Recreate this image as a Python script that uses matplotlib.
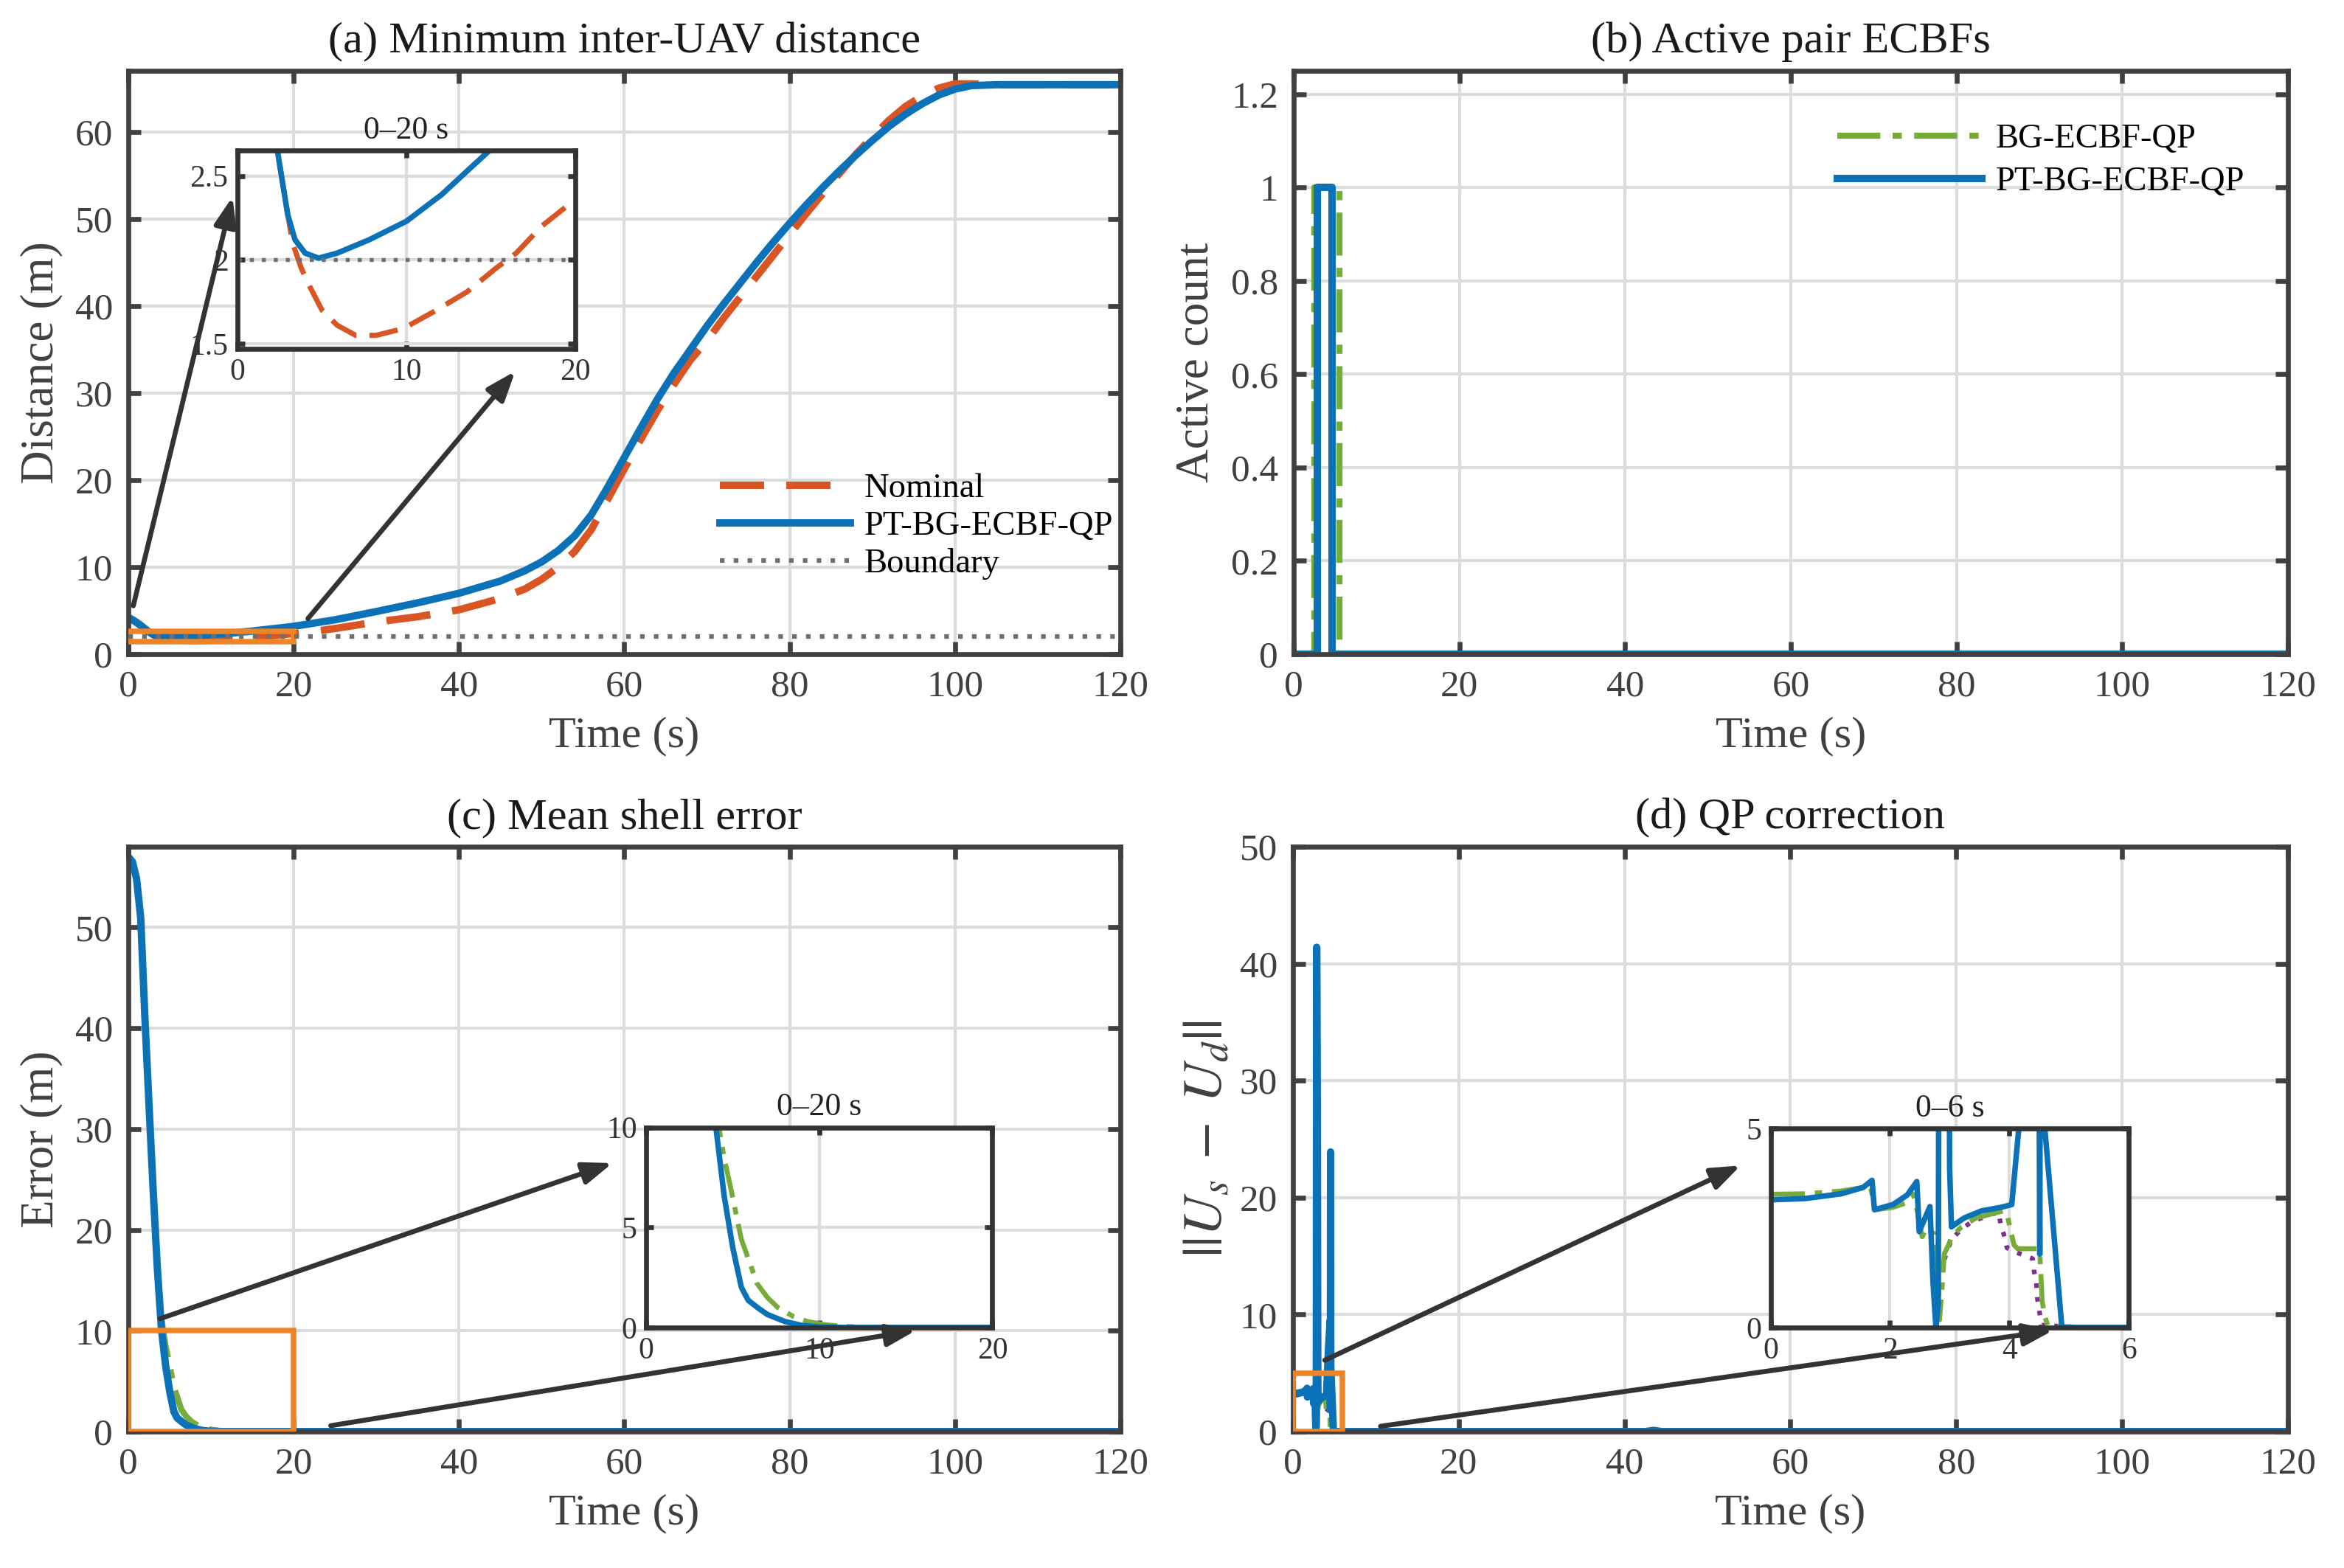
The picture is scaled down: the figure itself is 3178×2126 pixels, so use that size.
import numpy as np
import matplotlib
matplotlib.use("Agg")
import matplotlib.pyplot as plt
from matplotlib.patches import Rectangle

plt.rcParams['font.family'] = ['Liberation Serif', 'DejaVu Serif']
plt.rcParams['mathtext.fontset'] = 'stix'

# colours (MATLAB-like)
C_BLUE = '#0b72b8'
C_RED = '#d95524'
C_GREEN = '#77ac3a'
C_PURP = '#7e2f8e'
C_GRAY = '#707070'
C_ORANGE = '#ee8428'
C_AX = '#404040'
C_ARROW = '#333333'

# ---- (a) minimum inter-UAV distance ----
t_a_pt = [0, 0.5, 1, 1.5, 2, 2.36, 2.68, 2.97, 3.4, 4.0, 4.8, 5.9, 7.8, 10, 12.1, 13.6, 14.9,
          16.5, 18, 20, 25, 30, 35, 40, 45, 48, 50, 52, 54, 56, 58, 60, 62, 64, 66, 68, 70,
          72, 74, 76, 78, 80, 82, 84, 86, 88, 90, 92, 94, 96, 98, 100, 102, 105, 120]
d_pt = [4.2, 3.95, 3.65, 3.3, 2.92, 2.65, 2.45, 2.27, 2.12, 2.04, 2.01, 2.04, 2.12, 2.23, 2.39, 2.53, 2.65,
        2.82, 2.98, 3.2, 3.95, 4.9, 5.9, 7.0, 8.4, 9.6, 10.6, 11.9, 13.6, 16.0, 19.2, 22.6, 26.0, 29.3, 32.3, 35.0, 37.7,
        40.2, 42.6, 45.0, 47.3, 49.5, 51.6, 53.6, 55.5, 57.3, 59.0, 60.6, 62.0, 63.2, 64.2, 64.9, 65.3, 65.4, 65.4]
t_a_nom = [0, 0.5, 1, 1.5, 2, 2.36, 2.68, 2.97, 3.26, 3.77, 4.28, 5.0, 5.9, 7.0, 8.2, 9.8, 11.6, 13.6,
           15.3, 16.5, 18, 20, 22, 25, 30, 35, 40, 45, 48, 50, 52, 54, 56, 58, 60, 62, 64, 66, 68, 70,
           72, 74, 76, 78, 80, 82, 84, 86, 88, 90, 92, 94, 96, 98, 100, 102, 105, 120]
d_nom = [4.2, 3.95, 3.65, 3.3, 2.92, 2.65, 2.45, 2.27, 2.10, 1.95, 1.84, 1.70, 1.61, 1.55, 1.55, 1.59, 1.69, 1.81,
         1.95, 2.04, 2.2, 2.36, 2.55, 2.95, 3.7, 4.3, 5.1, 6.4, 7.5, 8.6, 10.0, 11.8, 14.3, 17.8, 21.3, 24.7, 28.0, 31.0, 33.8, 36.0,
         38.6, 41.0, 43.4, 45.8, 48.2, 50.6, 52.9, 55.2, 57.4, 59.4, 61.3, 62.9, 64.1, 65.0, 65.5, 65.5, 65.4, 65.4]
d_safe = 2.0

# ---- (b) active pair ECBFs ----
t_b_bg = [0, 2.5, 5.5, 120]
n_bg = [0, 1, 0, 0]
t_b_pt = [0, 2.86, 4.6, 120]
n_pt = [0, 1, 0, 0]

# ---- (c) mean shell error ----
t_c_pt = [0, 0.5, 1, 1.5, 2, 2.5, 3, 3.5, 4, 4.5, 5, 5.5, 5.9, 6.5, 7, 8, 9, 10, 11.5, 120]
e_pt = [57, 56.5, 54.8, 50.9, 41.1, 32.4, 24, 16.3, 10.2, 6.6, 4.0, 2.0, 1.35, 0.95, 0.65, 0.3, 0.1, 0.03, 0, 0]
t_c_bg = [0, 0.5, 1, 1.5, 2, 2.5, 3, 3.5, 4, 4.2, 4.5, 4.9, 5.5, 6, 6.4, 7, 7.6, 8.5, 9.3, 10.3, 11.4, 13.5, 120]
e_bg = [57, 56.5, 54.8, 50.9, 41.1, 32.4, 24, 16.5, 11.3, 10, 8.5, 6.9, 4.4, 3.2, 2.2, 1.5, 1.0, 0.55, 0.3, 0.14, 0.05, 0, 0]

# ---- (d) QP correction ----
t_d_pt = [0, 0.57, 1.18, 1.55, 1.70, 1.74, 2.05, 2.29, 2.45, 2.49, 2.67, 2.72, 2.77, 2.81, 2.86, 2.93,
          3.0, 3.03, 3.24, 3.53, 3.86, 4.04, 4.30, 4.49, 4.51, 4.54, 4.56, 4.88, 5.2, 42.5, 43.5, 44.5, 120]
u_pt = [3.21, 3.24, 3.36, 3.52, 3.70, 2.96, 3.09, 3.33, 3.67, 2.41, 3.04, 1.17, 0.0, 0.6, 41.4, 30,
        4.0, 2.53, 2.75, 2.93, 3.02, 3.09, 7.3, 9.5, 1.84, 23.9, 5.6, 0, 0, 0, 0.1, 0, 0]
t_d_bg = [0, 0.57, 1.18, 1.55, 1.66, 1.76, 2.05, 2.25, 2.38, 2.42, 2.54, 2.62, 2.74, 2.81, 2.83, 2.87, 2.91,
          2.99, 3.03, 3.2, 3.44, 3.69, 3.9, 3.96, 4.02, 4.08, 4.14, 4.47, 4.51, 4.55, 4.6, 4.64, 4.84, 5.2, 120]
u_bg = [3.35, 3.36, 3.43, 3.52, 3.62, 2.96, 3.02, 3.12, 3.36, 3.21, 2.28, 2.53, 2.35, 1.23, 0.19, 0.93, 1.85,
        2.10, 2.28, 2.53, 2.75, 2.85, 2.93, 2.87, 2.44, 2.07, 1.98, 1.98, 1.88, 0.65, 0.25, 0.06, 0.03, 0, 0]
t_d_alt = [2.91, 3.03, 3.2, 3.36, 3.53, 3.69, 3.82, 3.86, 3.92, 3.96, 4.1, 4.39, 4.41, 4.45, 4.47, 4.51, 4.53, 5.2, 120]
u_alt = [1.70, 2.22, 2.47, 2.65, 2.75, 2.85, 2.88, 2.56, 2.28, 2.0, 1.9, 1.73, 1.45, 1.14, 0.71, 0.34, 0.06, 0, 0]

W, H = 3179, 2126
fig = plt.figure(figsize=(W / 300, H / 300), dpi=300)

def px_axes(l, t, r, b):
    return fig.add_axes([l / W, 1 - b / H, (r - l) / W, (b - t) / H])

def style(ax, fs=12.3, tl=4.0, lw=1.6):
    ax.tick_params(direction='in', top=True, right=True, length=tl, width=lw,
                   labelsize=fs, colors=C_AX, labelcolor=C_AX, pad=5)
    for s in ax.spines.values():
        s.set_color(C_AX)
        s.set_linewidth(lw)
    ax.grid(True, color='#dcdcdc', linewidth=1.0)
    ax.set_axisbelow(True)

def arrow(ax, start, end):
    ax.annotate('', xy=end, xytext=start, xycoords='axes fraction', textcoords='axes fraction',
                annotation_clip=False, zorder=20,
                arrowprops=dict(arrowstyle='-|>,head_length=0.8,head_width=0.3',
                                color=C_ARROW, lw=1.6, shrinkA=0, shrinkB=0))

def inset(ax, rect, title):
    ins = ax.inset_axes(rect)
    ins.set_zorder(10)
    ins.set_facecolor('white')
    style(ins, fs=10, tl=2.5, lw=1.6)
    ins.tick_params(colors='#333333', labelcolor='#333333', pad=3)
    for s in ins.spines.values():
        s.set_color('#333333')
    ins.set_title(title, fontsize=10.5, pad=4, color='#222222')
    return ins

xlab_kw = dict(fontsize=14.5, color=C_AX)
ylab_kw = dict(fontsize=15.2, color=C_AX)
tit_kw = dict(fontsize=14.5, color='#1a1a1a', pad=6)
dash_red = (0, (6, 3))
dash_dot = (0, (7, 2, 1.5, 2))
dot_gray = (0, (1, 2))
leg_kw = dict(frameon=False, fontsize=11.2, borderpad=0, borderaxespad=0, handletextpad=0.4)

# ===== (a) =====
ax = px_axes(174, 96, 1519, 887)
style(ax)
ax.plot(t_a_nom, d_nom, color=C_RED, lw=2.4, linestyle=dash_red, label='Nominal')
ax.plot(t_a_pt, d_pt, color=C_BLUE, lw=2.4, label='PT-BG-ECBF-QP')
ax.axhline(d_safe, color=C_GRAY, lw=1.5, linestyle=dot_gray, label='Boundary', zorder=5)
ax.add_patch(Rectangle((0, 1.47), 20, 1.18, fill=False, edgecolor=C_ORANGE, lw=1.8, zorder=4))
ax.set_xlim(0, 120)
ax.set_ylim(0, 67)
ax.set_xticks(np.arange(0, 121, 20))
ax.set_yticks(np.arange(0, 61, 10))
ax.set_xlabel('Time (s)', **xlab_kw)
ax.set_ylabel('Distance (m)', **ylab_kw)
ax.set_title('(a) Minimum inter-UAV distance', **tit_kw)
ax.legend(loc='upper left', bbox_to_anchor=(0.596, 0.310), handlelength=3.8, labelspacing=0.17, **leg_kw)
ins = inset(ax, [0.1101, 0.5235, 0.3405, 0.3395], '0–20 s')
ins.plot(t_a_nom, d_nom, color=C_RED, lw=1.7, linestyle=(0, (5.5, 2.5)))
ins.plot(t_a_pt, d_pt, color=C_BLUE, lw=1.8)
ins.axhline(d_safe, color=C_GRAY, lw=1.3, linestyle=dot_gray)
ins.set_xlim(0, 20)
ins.set_ylim(1.47, 2.65)
ins.set_xticks([0, 10, 20])
ins.set_yticks([1.5, 2, 2.5])
ins.set_yticklabels(['1.5', '2', '2.5'])
arrow(ax, (0.005, 0.083), (0.105, 0.784))
arrow(ax, (0.181, 0.061), (0.390, 0.485))

# ===== (b) =====
ax = px_axes(1754, 96, 3102, 887)
style(ax)
ax.plot(t_b_bg, n_bg, color=C_GREEN, lw=2.0, linestyle=dash_dot, drawstyle='steps-post', label='BG-ECBF-QP')
ax.plot(t_b_pt, n_pt, color=C_BLUE, lw=2.4, drawstyle='steps-post', label='PT-BG-ECBF-QP')
ax.set_xlim(0, 120)
ax.set_ylim(0, 1.25)
ax.set_xticks(np.arange(0, 121, 20))
ax.set_yticks(np.arange(0, 1.21, 0.2))
ax.set_yticklabels(['0', '0.2', '0.4', '0.6', '0.8', '1', '1.2'])
ax.set_xlabel('Time (s)', **xlab_kw)
ax.set_ylabel('Active count', **ylab_kw)
ax.set_title('(b) Active pair ECBFs', **tit_kw)
ax.legend(loc='upper left', bbox_to_anchor=(0.547, 0.910), handlelength=4.2, labelspacing=0.33, **leg_kw)

# ===== (c) =====
ax = px_axes(174, 1148, 1519, 1941)
style(ax)
ax.plot(t_c_bg, e_bg, color=C_GREEN, lw=2.0, linestyle=dash_dot)
ax.plot(t_c_pt, e_pt, color=C_BLUE, lw=2.4)
ax.add_patch(Rectangle((0, 0), 20, 10, fill=False, edgecolor=C_ORANGE, lw=1.8, zorder=4))
ax.set_xlim(0, 120)
ax.set_ylim(0, 58)
ax.set_xticks(np.arange(0, 121, 20))
ax.set_yticks(np.arange(0, 51, 10))
ax.set_xlabel('Time (s)', **xlab_kw)
ax.set_ylabel('Error (m)', **ylab_kw)
ax.set_title('(c) Mean shell error', **tit_kw)
ins = inset(ax, [0.522, 0.178, 0.349, 0.342], '0–20 s')
ins.plot(t_c_bg, e_bg, color=C_GREEN, lw=1.6, linestyle=dash_dot)
ins.plot(t_c_pt, e_pt, color=C_BLUE, lw=1.8)
ins.set_xlim(0, 20)
ins.set_ylim(0, 10)
ins.set_xticks([0, 10, 20])
ins.set_yticks([0, 5, 10])
arrow(ax, (0.032, 0.193), (0.488, 0.459))
arrow(ax, (0.204, 0.010), (0.794, 0.173))

# ===== (d) =====
ax = px_axes(1753, 1148, 3102, 1941)
style(ax)
ax.plot(t_d_alt, u_alt, color=C_PURP, lw=1.5, linestyle=dot_gray)
ax.plot(t_d_bg, u_bg, color=C_GREEN, lw=2.0, linestyle=dash_dot)
ax.plot(t_d_pt, u_pt, color=C_BLUE, lw=2.4)
ax.add_patch(Rectangle((0, 0), 6, 5, fill=False, edgecolor=C_ORANGE, lw=1.8, zorder=4))
ax.set_xlim(0, 120)
ax.set_ylim(0, 50)
ax.set_xticks(np.arange(0, 121, 20))
ax.set_yticks(np.arange(0, 51, 10))
ax.set_xlabel('Time (s)', **xlab_kw)
ax.set_ylabel(r'$||U_s\;-\;U_d||$', fontsize=18, color=C_AX, labelpad=2)
ax.set_title('(d) QP correction', **tit_kw)
ins = inset(ax, [0.480, 0.178, 0.360, 0.340], '0–6 s')
ins.plot(t_d_alt, u_alt, color=C_PURP, lw=1.5, linestyle=dot_gray)
ins.plot(t_d_bg, u_bg, color=C_GREEN, lw=1.6, linestyle=dash_dot)
ins.plot(t_d_pt, u_pt, color=C_BLUE, lw=1.8)
ins.set_xlim(0, 6)
ins.set_ylim(0, 5)
ins.set_xticks([0, 2, 4, 6])
ins.set_yticks([0, 5])
arrow(ax, (0.032, 0.122), (0.450, 0.455))
arrow(ax, (0.088, 0.009), (0.764, 0.173))

fig.savefig('out.png', dpi=300, facecolor='white')
